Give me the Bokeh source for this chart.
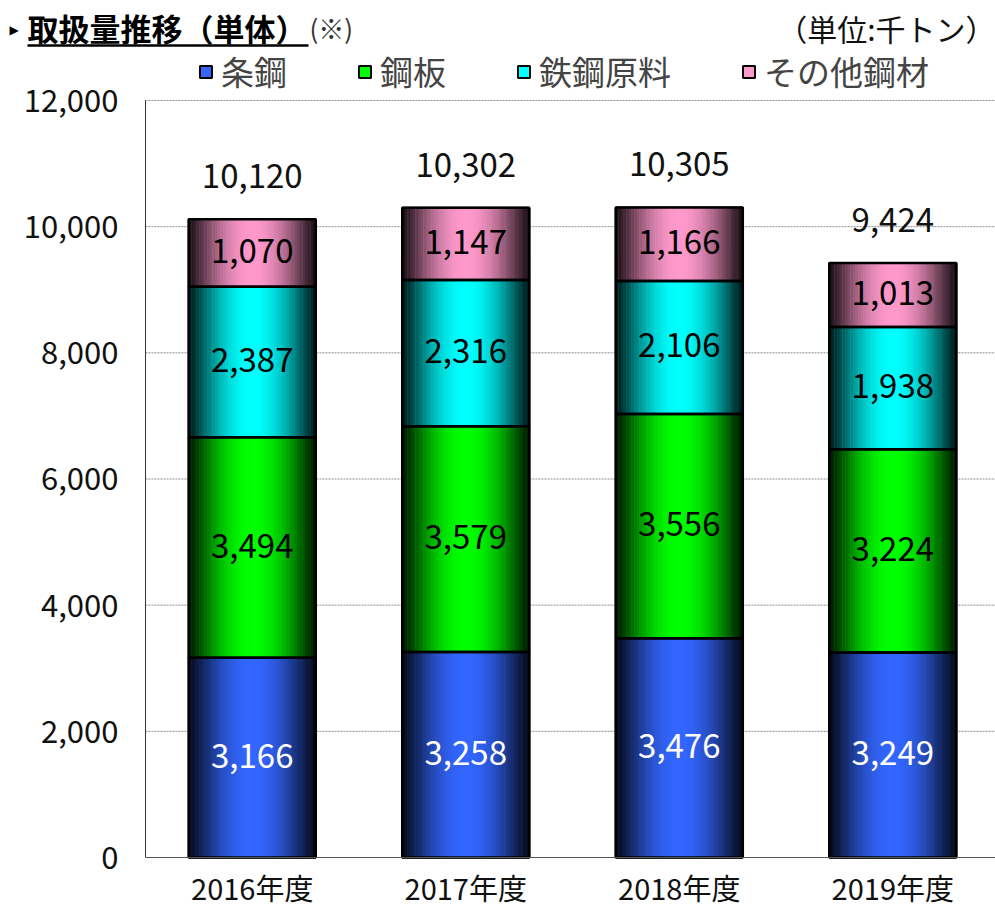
import numpy as np
from bokeh.plotting import figure
from bokeh.models import (ColumnDataSource, Range1d, FixedTicker, NumeralTickFormatter,
                          Legend, LegendItem, Label, Arrow, LinearAxis)
from bokeh.core.properties import value
from bokeh.embed import file_html
from bokeh.resources import INLINE

# ---------------- data ----------------
years = ["2016年度", "2017年度", "2018年度", "2019年度"]
series_names = ["条鋼", "鋼板", "鉄鋼原料", "その他鋼材"]
bar_steel = [3166, 3258, 3476, 3249]
sheet_steel = [3494, 3579, 3556, 3224]
raw_materials = [2387, 2316, 2106, 1938]
other_steel = [1070, 1147, 1166, 1013]
totals = [10120, 10302, 10305, 9424]
y_ticks = [0, 2000, 4000, 6000, 8000, 10000, 12000]

series_values = [bar_steel, sheet_steel, raw_materials, other_steel]
base_colors = [(0x33, 0x66, 0xFF), (0x00, 0xFF, 0x00), (0x00, 0xFF, 0xFF), (0xFF, 0x99, 0xCC)]
label_colors = ["white", "black", "black", "black"]

FONT = "Noto Sans CJK JP"
BAR_W = 0.595
N_STRIPS = 48
X_START, X_END = -0.679, 3.981
Y_START, Y_END = -840.0, 13585.0

def hexcol(rgb, f):
    return "#%02x%02x%02x" % tuple(int(round(max(0, min(255, c * f)))) for c in rgb)

def shade(t):
    return 0.10 + 0.90 * (1 - t ** 2) ** 1.3

p = figure(width=995, height=910,
           x_range=Range1d(X_START, X_END), y_range=Range1d(Y_START, Y_END),
           output_backend="svg", toolbar_location=None,
           x_axis_location=None, y_axis_location=None,
           min_border_left=0, min_border_right=0, min_border_top=0, min_border_bottom=0)
p.title = None
p.outline_line_color = None
p.background_fill_color = "white"
p.border_fill_color = "white"
p.xgrid.visible = False
p.ygrid.visible = False

# axes drawn at data origin
yaxis = LinearAxis(fixed_location=0, ticker=FixedTicker(ticks=y_ticks),
                   formatter=NumeralTickFormatter(format="0,0"), bounds=(0, 12000),
                   major_tick_line_color=None, minor_tick_line_color=None,
                   axis_line_color="#333333",
                   major_label_text_font=FONT, major_label_text_font_size="31px",
                   major_label_text_color="#111111", major_label_standoff=21)
p.add_layout(yaxis, "left")

x_centers = [i + 0.5 for i in range(len(years))]
xaxis = LinearAxis(fixed_location=0, ticker=FixedTicker(ticks=x_centers),
                   major_label_overrides={c: y for c, y in zip(x_centers, years)},
                   bounds=(0, X_END),
                   major_tick_line_color=None, minor_tick_line_color=None,
                   axis_line_color="#555555",
                   major_label_text_font=FONT, major_label_text_font_size="29px",
                   major_label_text_color="#111111", major_label_standoff=2)
p.add_layout(xaxis, "below")

# dotted horizontal grid lines right of the axis
grid_vals = [t for t in y_ticks if t > 0]
p.segment(x0=[0] * len(grid_vals), y0=grid_vals, x1=[X_END] * len(grid_vals), y1=grid_vals,
          line_color="#8a8a8a", line_dash="2 1", line_width=1)

# stacked bars with horizontal gradient
bottoms = [0.0] * len(years)
base_renderers = []
outline_data = []
label_specs = []
for si, vals in enumerate(series_values):
    tops = [b + v for b, v in zip(bottoms, vals)]
    base_r = p.vbar(x=x_centers, width=BAR_W, bottom=bottoms, top=tops,
                    fill_color=hexcol(base_colors[si], 1.0), line_color="black", line_width=2)
    base_renderers.append(base_r)
    xs, bs, ts, cs = [], [], [], []
    for yi, xc in enumerate(x_centers):
        for k in range(N_STRIPS):
            pos = (k + 0.5) / N_STRIPS
            t = abs(pos - 0.5) * 2
            xs.append(xc - BAR_W / 2 + pos * BAR_W)
            bs.append(bottoms[yi])
            ts.append(tops[yi])
            cs.append(hexcol(base_colors[si], shade(t)))
    src = ColumnDataSource(dict(x=xs, bottom=bs, top=ts, color=cs))
    p.vbar(x="x", width=BAR_W / N_STRIPS * 1.15, bottom="bottom", top="top",
           fill_color="color", line_color=None, source=src)
    mids = [(b + t) / 2 for b, t in zip(bottoms, tops)]
    outline_data.append((list(bottoms), tops))
    label_specs.append((mids, vals, label_colors[si]))
    bottoms = tops

# crisp outlines on top
for b, t in outline_data:
    p.vbar(x=x_centers, width=BAR_W, bottom=b, top=t,
           fill_color=None, line_color="black", line_width=2.5)

# segment value labels
for mids, vals, col in label_specs:
    p.text(x=x_centers, y=mids, text=["{:,}".format(v) for v in vals],
           text_align="center", text_baseline="middle", y_offset=-2,
           text_font=value(FONT), text_font_size="33px", text_color=col)

# totals
p.text(x=x_centers, y=totals, text=["{:,}".format(v) for v in totals],
       text_align="center", text_baseline="middle", y_offset=-43,
       text_font=value(FONT), text_font_size="33px", text_color="#111111")

# legend
legend = Legend(items=[LegendItem(label=n, renderers=[r]) for n, r in zip(series_names, base_renderers)],
                orientation="horizontal", location=(198, 815),
                label_text_font=FONT, label_text_font_size="33px",
                glyph_width=15, glyph_height=15, label_standoff=8, spacing=70,
                padding=0, margin=0, border_line_color=None, background_fill_alpha=0)
p.add_layout(legend)

# titles (screen units relative to frame bottom-left = canvas bottom-left)
p.add_layout(Label(x=9, y=881, x_units="screen", y_units="screen", text="▶",
                   text_font="DejaVu Sans", text_font_size="12px",
                   text_baseline="middle", text_color="black"))
p.add_layout(Label(x=27, y=883, x_units="screen", y_units="screen", text="取扱量推移（単体）",
                   text_font=FONT, text_font_size="31px", text_font_style="bold",
                   text_baseline="alphabetic", text_color="black"))
p.add_layout(Arrow(end=None, x_start=27, y_start=865, x_end=308, y_end=865,
                   start_units="screen", end_units="screen", line_width=2.5, line_color="black"))
p.add_layout(Label(x=309, y=883, x_units="screen", y_units="screen", text="(※)",
                   text_font=FONT, text_font_size="26px",
                   text_baseline="alphabetic", text_color="#333333"))
p.add_layout(Label(x=995, y=883, x_units="screen", y_units="screen", text="（単位:千トン）",
                   text_font=FONT, text_font_size="30px", text_align="right",
                   text_baseline="alphabetic", text_color="#111111"))

open("out.html", "w").write(file_html(p, INLINE))
